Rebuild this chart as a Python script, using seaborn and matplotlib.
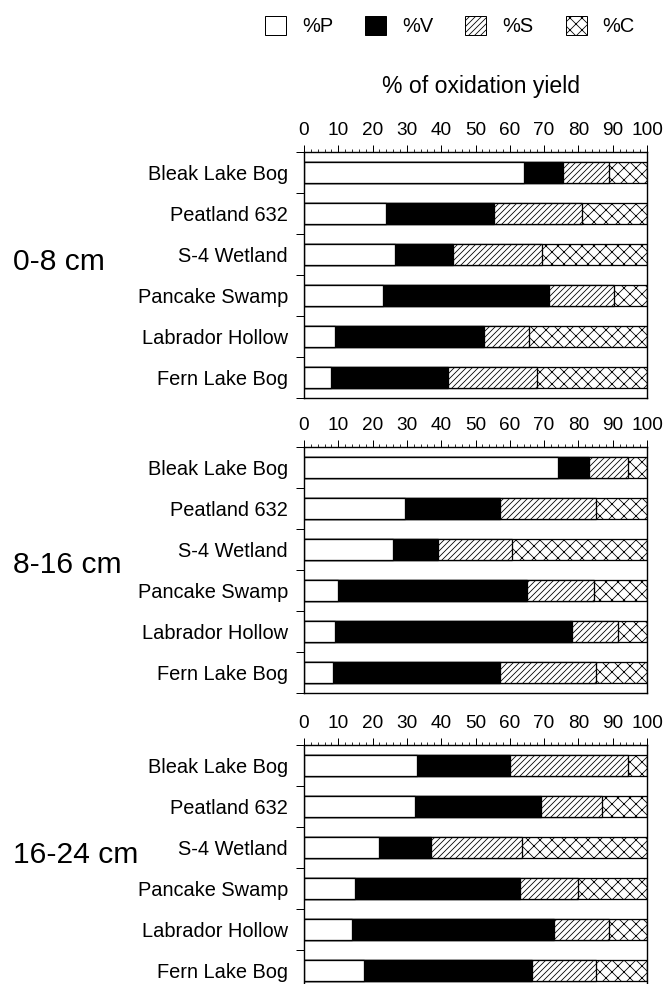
import numpy as np
import pandas as pd
import matplotlib.pyplot as plt
import seaborn as sns
from matplotlib.patches import Patch

# sites, top to bottom
sites = ['Bleak Lake Bog', 'Peatland 632', 'S-4 Wetland',
         'Pancake Swamp', 'Labrador Hollow', 'Fern Lake Bog']
depths = ['0-8 cm', '8-16 cm', '16-24 cm']

# % of oxidation yield, per depth
P_0_8 = [64, 24, 26.5, 23, 9, 8]
V_0_8 = [11.5, 31.5, 17, 48.5, 43.5, 34]
S_0_8 = [13.5, 25.5, 26, 19, 13, 26]
C_0_8 = [11, 19, 30.5, 9.5, 34.5, 32]

P_8_16 = [74, 29.5, 26, 10, 9, 8.5]
V_8_16 = [9, 27.5, 13, 55, 69, 48.5]
S_8_16 = [11.5, 28, 21.5, 19.5, 13.5, 28]
C_8_16 = [5.5, 15, 39.5, 15.5, 8.5, 15]

P_16_24 = [33, 32.5, 22, 15, 14, 17.5]
V_16_24 = [27, 36.5, 15, 48, 59, 49]
S_16_24 = [34.5, 18, 26.5, 17, 16, 18.5]
C_16_24 = [5.5, 13, 36.5, 20, 11, 15]

data = [
    (P_0_8, V_0_8, S_0_8, C_0_8),
    (P_8_16, V_8_16, S_8_16, C_8_16),
    (P_16_24, V_16_24, S_16_24, C_16_24),
]

sns.set_theme(style='ticks', rc={'axes.edgecolor': 'black', 'xtick.color': 'black',
                                 'ytick.color': 'black', 'text.color': 'black',
                                 'hatch.linewidth': 0.8})
plt.rcParams['font.family'] = ['Liberation Sans', 'DejaVu Sans']

W, H = 665, 984
fig = plt.figure(figsize=(W / 72, H / 72), dpi=72)

left = 304 / W
width = (647 - 304) / W
tops = [152, 447, 745]
ph = 246
label_y = [262, 565, 855]

# drawn back to front: cumulative totals
layers = [('C', 'white', 'xx'), ('S', 'white', '////'), ('V', 'black', None), ('P', 'white', None)]

for i, (P, V, S, C) in enumerate(data):
    ax = fig.add_axes([left, 1 - (tops[i] + ph) / H, width, ph / H])
    df = pd.DataFrame({'Site': sites, 'P': P, 'V': V, 'S': S, 'C': C})
    df['cP'] = df['P']
    df['cV'] = df['cP'] + df['V']
    df['cS'] = df['cV'] + df['S']
    df['cC'] = df['cS'] + df['C']
    for col, fill, hatch in layers:
        sns.barplot(data=df, x='c' + col, y='Site', orient='h', color=fill,
                    saturation=1, edgecolor='black', linewidth=1.3, hatch=hatch,
                    width=0.52, errorbar=None, ax=ax)
    ax.set_xlim(0, 100)
    ax.set_ylim(5.5, -0.5)
    ax.set_xlabel('')
    ax.set_ylabel('')
    ax.xaxis.tick_top()
    ax.set_xticks(range(0, 101, 10))
    ax.set_xticks(range(0, 101, 2), minor=True)
    ax.tick_params(axis='x', which='major', length=7, width=1, labelsize=19, pad=6)
    ax.tick_params(axis='x', which='minor', length=3.5, width=0.8)
    ax.set_yticks(np.arange(-0.5, 6, 1), minor=True)
    ax.tick_params(axis='y', which='major', length=0, labelsize=20, pad=16)
    ax.tick_params(axis='y', which='minor', length=8, width=1)
    for s in ax.spines.values():
        s.set_visible(True)
        s.set_linewidth(1.4)
    fig.text(13 / W, 1 - label_y[i] / H, depths[i], fontsize=30, va='center', ha='left')

fig.text(481 / W, 1 - 93 / H, '% of oxidation yield', fontsize=23, ha='center', va='baseline')

handles = [Patch(facecolor='white', edgecolor='black', label='%P'),
           Patch(facecolor='black', edgecolor='black', label='%V'),
           Patch(facecolor='white', edgecolor='black', hatch='////', label='%S'),
           Patch(facecolor='white', edgecolor='black', hatch='xx', label='%C')]
fig.legend(handles=handles, ncol=4, loc='center left', bbox_to_anchor=(255 / W, 1 - 26 / H),
           frameon=False, fontsize=20, handlelength=1.05, handleheight=1.05,
           handletextpad=0.8, columnspacing=1.6, borderpad=0)

plt.savefig('out.png', dpi=72)
